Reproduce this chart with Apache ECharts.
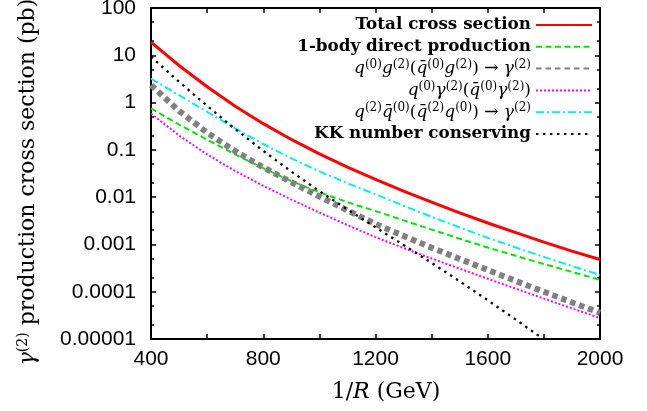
<!DOCTYPE html>
<html>
<head>
<meta charset="utf-8">
<script src="https://cdn.jsdelivr.net/npm/echarts@6/dist/echarts.min.js"></script>
<style>
html, body { margin: 0; padding: 0; background: #ffffff; }
#chart { width: 647px; height: 411px; }
</style>
</head>
<body>
<div id="chart"></div>
<script>
// Compactification scale 1/R (GeV)
const massPoints = [400, 500, 600, 700, 800, 900, 1000, 1100, 1200, 1300, 1400, 1500, 1600, 1700, 1800, 1900, 2000];

// gamma^(2) production cross sections (pb)
const totalXsec = [19.0, 6.08, 2.16, 0.839, 0.358, 0.166, 0.082, 0.043, 0.0237, 0.01345, 0.00783, 0.00467, 0.00284, 0.00177, 0.00112, 0.000723, 0.00048];
const directXsec = [0.757, 0.342, 0.164, 0.0802, 0.0411, 0.0218, 0.0127, 0.00783, 0.00506, 0.00323, 0.00206, 0.00132, 0.000859, 0.000574, 0.000385, 0.000262, 0.000178];
const qgXsec = [2.34, 0.667, 0.231, 0.0942, 0.0426, 0.0208, 0.01033, 0.00524, 0.00272, 0.00151, 0.000855, 0.000492, 0.000288, 0.000169, 0.0001, 0.0000593, 0.0000357];
const qgammaXsec = [0.587, 0.201, 0.0802, 0.0358, 0.01734, 0.00889, 0.00472, 0.002564, 0.001426, 0.000839, 0.000504, 0.000307, 0.000188, 0.000116, 0.0000716, 0.0000445, 0.0000277];
const qqXsec = [3.23, 1.43, 0.637, 0.284, 0.133, 0.0659, 0.035, 0.0197, 0.01146, 0.00659, 0.00384, 0.00229, 0.00138, 0.000859, 0.000545, 0.00035, 0.000227];
const kkConservingXsec = [9.33, 2.75, 0.851, 0.275, 0.0955, 0.0347, 0.0135, 0.0055, 0.00229, 0.000977, 0.000407, 0.000166, 0.000066, 0.0000257, 0.0000098];

// Axis ticks
const xLabelValues = [400, 800, 1200, 1600, 2000];
const yTickValues = [0.00001, 0.0001, 0.001, 0.01, 0.1, 1, 10, 100];
const yTickLabels = ['0.00001', '0.0001', '0.001', '0.01', '0.1', '1', '10', '100'];
const yMinorValues = [0.00002, 0.00005, 0.0002, 0.0005, 0.002, 0.005, 0.02, 0.05, 0.2, 0.5, 2, 5, 20, 50];

// Series names and their legend texts
const seriesNames = ['total', 'direct', 'qg', 'qgamma', 'qq', 'kk'];
const legendTexts = {
  total: '{b|Total cross section}',
  direct: '{b|1-body direct production}',
  qg: '{i|q}{s|(0)}{i|g}{s|(2)}{r|(}{i|q̄}{s|(0)}{i|g}{s|(2)}{r|) → }{i|γ}{s|(2)}',
  qgamma: '{i|q}{s|(0)}{i|γ}{s|(2)}{r|(}{i|q̄}{s|(0)}{i|γ}{s|(2)}{r|)}',
  qq: '{i|q}{s|(2)}{i|q̄}{s|(0)}{r|(}{i|q̄}{s|(2)}{i|q}{s|(0)}{r|) → }{i|γ}{s|(2)}',
  kk: '{b|KK number conserving}'
};

const SERIF = 'DejaVu Serif';
const SANS = 'Liberation Sans, Arial, sans-serif';

const legendRich = {
  b: { fontFamily: SERIF, fontWeight: 'bold', fontSize: 16.8, lineHeight: 20, color: '#000' },
  i: { fontFamily: SERIF, fontStyle: 'italic', fontSize: 17, lineHeight: 20, color: '#000' },
  r: { fontFamily: SERIF, fontSize: 17, lineHeight: 20, color: '#000' },
  s: { fontFamily: SERIF, fontSize: 12, lineHeight: 10, verticalAlign: 'top', color: '#000' }
};

const titleRich = {
  i: { fontFamily: SERIF, fontStyle: 'italic', fontSize: 22, lineHeight: 24, color: '#000' },
  r: { fontFamily: SERIF, fontSize: 22, lineHeight: 24, color: '#000' },
  s: { fontFamily: SERIF, fontSize: 14, lineHeight: 12, verticalAlign: 'top', color: '#000' }
};

function pairs(values) {
  return values.map((v, k) => [massPoints[k], v]);
}

function lineSeries(name, values, color, width, dash) {
  return {
    name: name,
    type: 'line',
    data: pairs(values),
    xAxisIndex: 0,
    yAxisIndex: 0,
    symbol: 'none',
    smooth: false,
    clip: true,
    silent: true,
    lineStyle: { color: color, width: width, type: dash || 'solid', cap: 'butt', join: 'round' },
    itemStyle: { color: color },
    emphasis: { disabled: true }
  };
}

const axisLineStyle = { show: true, lineStyle: { color: '#000', width: 2 } };

function logAxis(position, values, length, withLabels) {
  return {
    type: 'log',
    logBase: 10,
    position: position,
    min: 0.00001,
    max: 100,
    axisLine: axisLineStyle,
    splitLine: { show: false },
    minorTick: { show: false },
    axisTick: { show: true, inside: true, length: length, customValues: values, lineStyle: { color: '#000', width: 1.5 } },
    axisLabel: withLabels ? {
      show: true,
      customValues: yTickValues,
      margin: 15,
      fontFamily: SANS,
      fontSize: 21,
      color: '#000',
      formatter: function (v) {
        const k = Math.round(Math.log10(v)) + 5;
        return yTickLabels[k];
      }
    } : { show: false }
  };
}

const chart = echarts.init(document.getElementById('chart'), null, { renderer: 'canvas' });

chart.setOption({
  animation: false,
  backgroundColor: '#ffffff',
  grid: { left: 151, right: 47, top: 8, bottom: 72, outerBoundsMode: 'none', containLabel: false },
  xAxis: [
    {
      type: 'value',
      position: 'bottom',
      min: 400,
      max: 2000,
      interval: 200,
      axisLine: axisLineStyle,
      splitLine: { show: false },
      axisTick: { show: true, inside: true, length: 5, lineStyle: { color: '#000', width: 1.5 } },
      axisLabel: {
        show: true,
        customValues: xLabelValues,
        margin: 10,
        fontFamily: SANS,
        fontSize: 21,
        color: '#000',
        formatter: function (v) { return String(v); }
      }
    },
    {
      type: 'value',
      position: 'top',
      min: 400,
      max: 2000,
      interval: 200,
      axisLine: axisLineStyle,
      splitLine: { show: false },
      axisTick: { show: true, inside: true, length: 5, lineStyle: { color: '#000', width: 1.5 } },
      axisLabel: { show: false }
    }
  ],
  yAxis: [
    logAxis('left', yTickValues, 5, true),
    logAxis('left', yMinorValues, 3, false),
    logAxis('right', yTickValues, 5, false),
    logAxis('right', yMinorValues, 3, false)
  ],
  legend: {
    data: seriesNames,
    orient: 'vertical',
    right: 54,
    top: 15,
    align: 'right',
    padding: 0,
    itemWidth: 56,
    itemHeight: 14,
    itemGap: 1.8,
    selectedMode: false,
    itemStyle: { opacity: 0 },
    textStyle: { color: '#000', lineHeight: 20, rich: legendRich },
    formatter: function (name) { return legendTexts[name]; }
  },
  graphic: [
    {
      type: 'text',
      x: 28,
      y: 182,
      rotation: Math.PI / 2,
      silent: true,
      style: {
        text: '{i|γ}{s|(2)}{r| production cross section (pb)}',
        rich: titleRich,
        align: 'center',
        verticalAlign: 'middle',
        fill: '#000'
      }
    },
    {
      type: 'text',
      x: 386,
      y: 392,
      silent: true,
      style: {
        text: '{r|1/}{i|R}{r| (GeV)}',
        rich: titleRich,
        align: 'center',
        verticalAlign: 'middle',
        fill: '#000'
      }
    }
  ],
  series: [
    lineSeries('total', totalXsec, '#ff0000', 3, 'solid'),
    lineSeries('direct', directXsec, '#00e600', 2, [6, 3.5]),
    lineSeries('qg', qgXsec, '#808080', 6, [5.5, 4]),
    lineSeries('qgamma', qgammaXsec, '#ff00ff', 2, [2, 2]),
    lineSeries('qq', qqXsec, '#00eeee', 2, [8, 3, 2, 3]),
    lineSeries('kk', kkConservingXsec, '#000000', 2.3, [2.4, 4.6])
  ]
});
</script>
</body>
</html>
